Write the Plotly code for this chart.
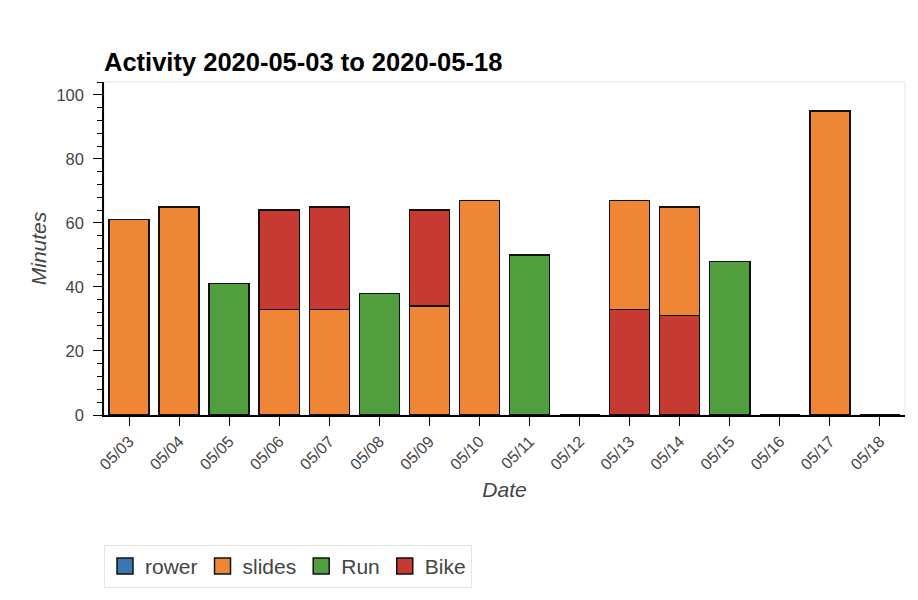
import plotly.graph_objects as go

dates = ["05/03", "05/04", "05/05", "05/06", "05/07", "05/08", "05/09", "05/10",
         "05/11", "05/12", "05/13", "05/14", "05/15", "05/16", "05/17", "05/18"]
rower = [0, 0, 0, 0, 0, 0, 0, 0, 0, 0, 0, 0, 0, 0, 0, 0]
slides = [61, 65, 0, 33, 33, 0, 34, 67, 0, 0, 34, 34, 0, 0, 95, 0]
run = [0, 0, 41, 0, 0, 38, 0, 0, 50, 0, 0, 0, 48, 0, 0, 0]
bike = [0, 0, 0, 31, 32, 0, 30, 0, 0, 0, 33, 31, 0, 0, 0, 0]
# days where the bike segment sits below the slides segment
bike_first = [False] * 10 + [True, True] + [False] * 4

series_names = ["rower", "slides", "Run", "Bike"]
colors = {"rower": "#3a77b0", "slides": "#ef8636", "Run": "#519e3e", "Bike": "#c63a32"}

bike_low = [b if f else 0 for b, f in zip(bike, bike_first)]
bike_high = [0 if f else b for b, f in zip(bike, bike_first)]

fig = go.Figure()
line = dict(color="#111111", width=1.4)


def add(name, vals):
    fig.add_trace(go.Bar(x=dates, y=vals, name=name, marker=dict(color=colors[name], line=line),
                         width=0.8, showlegend=False, legendgroup=name))


add("rower", rower)
add("Bike", bike_low)
add("slides", slides)
add("Run", run)
add("Bike", bike_high)

# legend entries with large square swatches
for name in series_names:
    fig.add_trace(go.Scatter(x=[None], y=[None], mode="markers", name=name, legendgroup=name,
                             marker=dict(symbol="square", size=26, color=colors[name],
                                         line=dict(color="#111111", width=1.5))))

fig.update_layout(
    barmode="stack",
    width=910, height=592,
    margin=dict(l=96, r=13, t=74, b=185),
    plot_bgcolor="white", paper_bgcolor="white",
    font=dict(family="Liberation Sans, Arial, sans-serif", size=16, color="#444444"),
    title=dict(text="<b>Activity 2020-05-03 to 2020-05-18</b>", x=0, xref="paper", xanchor="left",
               y=1, yref="paper", yanchor="bottom", pad=dict(b=11),
               font=dict(size=25.5, color="black")),
    xaxis=dict(title=dict(text="<i>Date</i>", font=dict(size=21, color="#444444"), standoff=10),
               type="category", range=[-0.5, 15.5], tickangle=-45,
               showline=True, linecolor="black", linewidth=1.5, ticks="outside", ticklen=9,
               tickcolor="black", tickfont=dict(size=16, color="#444444"), showgrid=False),
    yaxis=dict(title=dict(text="<i>Minutes</i>", font=dict(size=21, color="#444444"), standoff=4),
               range=[0, 104], dtick=20, showline=True, linecolor="black", linewidth=1.5,
               ticks="outside", ticklen=9, tickcolor="black", showgrid=False, zeroline=False,
               tickfont=dict(size=16.5, color="#444444"), ticklabelstandoff=6,
               minor=dict(dtick=4, ticks="outside", ticklen=5, tickcolor="black")),
    legend=dict(orientation="h", x=0, xanchor="left", y=-0.39, yanchor="top",
                bordercolor="#e5e5e5", borderwidth=1, bgcolor="white",
                font=dict(size=21, color="#444444"), traceorder="normal",
                itemsizing="trace"),
    shapes=[dict(type="rect", xref="paper", yref="paper", x0=0, x1=1, y0=0, y1=1,
                 line=dict(color="#e5e5e5", width=1), layer="below")],
)

fig.write_html("out.html")
